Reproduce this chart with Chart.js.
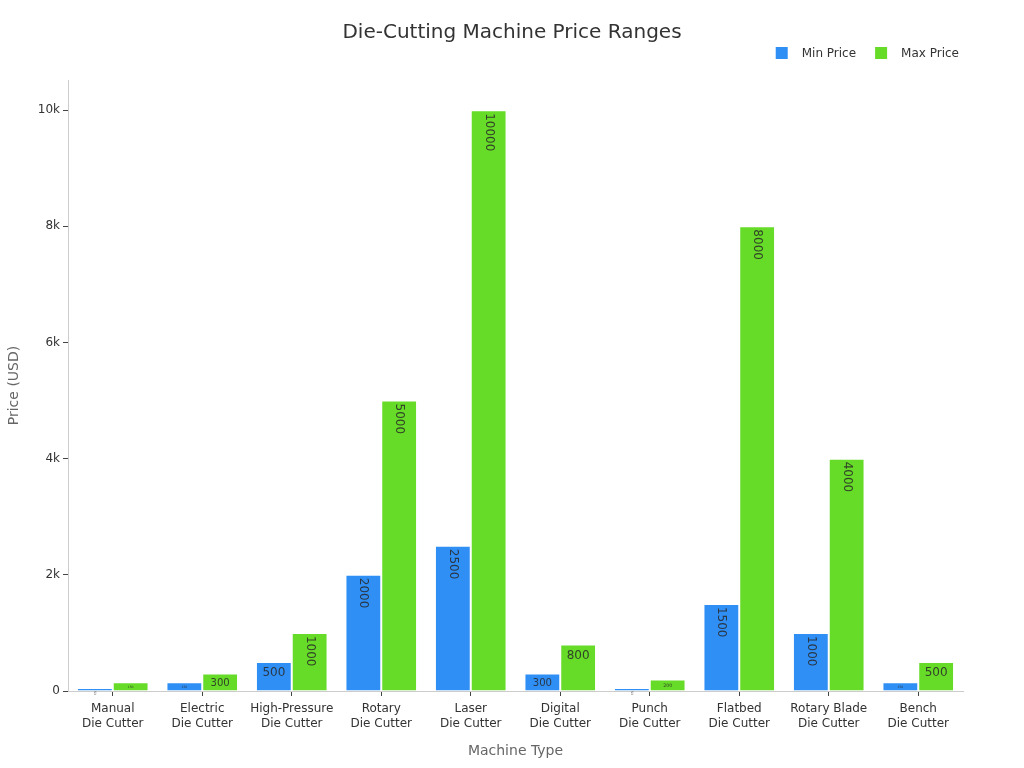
<!DOCTYPE html>
<html>
<head>
<meta charset="utf-8">
<script src="https://cdn.jsdelivr.net/npm/chart.js@4.4.1/dist/chart.umd.min.js"></script>
<style>
  html, body { margin: 0; padding: 0; background: #fff; }
  #wrap { width: 1024px; height: 768px; }
</style>
</head>
<body>
<div id="wrap"><canvas id="chart" width="1024" height="768"></canvas></div>
<script>
// ---- data ----
const machineTypes = [
  ['Manual', 'Die Cutter'],
  ['Electric', 'Die Cutter'],
  ['High-Pressure', 'Die Cutter'],
  ['Rotary', 'Die Cutter'],
  ['Laser', 'Die Cutter'],
  ['Digital', 'Die Cutter'],
  ['Punch', 'Die Cutter'],
  ['Flatbed', 'Die Cutter'],
  ['Rotary Blade', 'Die Cutter'],
  ['Bench', 'Die Cutter']
];
const minPrice = [50, 150, 500, 2000, 2500, 300, 50, 1500, 1000, 150];
const maxPrice = [150, 300, 1000, 5000, 10000, 800, 200, 8000, 4000, 500];
const yTicks = [0, 2000, 4000, 6000, 8000, 10000];
const yTickLabels = ['0', '2k', '4k', '6k', '8k', '10k'];
const seriesNames = ['Min Price', 'Max Price'];
const seriesColors = ['#2f8ff5', '#66db28'];

const FONT = "'DejaVu Sans', Verdana, sans-serif";
const chartTitle = 'Die-Cutting Machine Price Ranges';

// title + legend drawn in the top margin
const header = {
  id: 'header',
  afterDraw(chart) {
    const ctx = chart.ctx;
    ctx.save();
    ctx.fillStyle = '#333';
    ctx.textBaseline = 'middle';
    ctx.textAlign = 'center';
    ctx.font = '20px ' + FONT;
    ctx.fillText(chartTitle, chart.width / 2, 33);

    // legend, right aligned
    ctx.font = '12px ' + FONT;
    ctx.textAlign = 'left';
    const items = chart.data.datasets.map(ds => ({ text: ds.label, color: ds.backgroundColor }));
    const widths = items.map(it => 12 + 14 + ctx.measureText(it.text).width);
    const gap = 19;
    let total = widths.reduce((a, b) => a + b, 0) + gap * (items.length - 1);
    let x = 959 - total;
    const y = 53;
    items.forEach((it, i) => {
      ctx.fillStyle = it.color;
      ctx.fillRect(x, y - 6, 12, 12);
      ctx.fillStyle = '#333';
      ctx.fillText(it.text, x + 26, y + 1);
      x += widths[i] + gap;
    });
    ctx.restore();
  }
};

// labels inside bars, rotated or shrunk when they don't fit
const barLabels = {
  id: 'barLabels',
  afterDatasetsDraw(chart) {
    const ctx = chart.ctx;
    const pad = 3;
    chart.data.datasets.forEach((ds, di) => {
      const meta = chart.getDatasetMeta(di);
      meta.data.forEach((bar, i) => {
        const txt = String(ds.data[i]);
        const w = bar.width;
        const h = Math.abs(bar.base - bar.y);
        ctx.save();
        ctx.font = '12px ' + FONT;
        const tw = ctx.measureText(txt).width;
        const th = 13;
        const sH = Math.min(1, (w - 2 * pad) / tw, (h - 2 * pad) / th);
        const sR = Math.min(1, (h - 2 * pad) / tw, (w - 2 * pad) / th);
        ctx.fillStyle = 'rgba(40,40,40,0.85)';
        ctx.textAlign = 'center';
        ctx.textBaseline = 'middle';
        if (sH >= sR) {
          const s = Math.max(sH, 0.25);
          ctx.font = (12 * s).toFixed(1) + 'px ' + FONT;
          ctx.fillText(txt, bar.x, bar.y + pad + th * s / 2 + 1.5 * s);
        } else {
          const s = Math.max(sR, 0.25);
          ctx.font = (12 * s).toFixed(1) + 'px ' + FONT;
          ctx.translate(bar.x, bar.y + pad + tw * s / 2);
          ctx.rotate(Math.PI / 2);
          ctx.fillText(txt, 0, 0);
        }
        ctx.restore();
      });
    });
  }
};

new Chart(document.getElementById('chart'), {
  type: 'bar',
  data: {
    labels: machineTypes,
    datasets: [
      {
        label: seriesNames[0],
        data: minPrice,
        backgroundColor: seriesColors[0],
        borderColor: '#ffffff',
        borderWidth: 1,
        borderSkipped: 'bottom'
      },
      {
        label: seriesNames[1],
        data: maxPrice,
        backgroundColor: seriesColors[1],
        borderColor: '#ffffff',
        borderWidth: 1,
        borderSkipped: 'bottom'
      }
    ]
  },
  options: {
    responsive: false,
    animation: false,
    layout: { padding: { left: 0, right: 61, top: 80, bottom: 0 } },
    datasets: { bar: { categoryPercentage: 0.8, barPercentage: 1.0 } },
    plugins: {
      title: { display: false },
      legend: { display: false },
      tooltip: { enabled: false }
    },
    scales: {
      x: {
        title: {
          display: true,
          text: 'Machine Type',
          color: '#666',
          font: { family: FONT, size: 14 },
          padding: { top: 8, bottom: 8 }
        },
        ticks: {
          color: '#333',
          font: { family: FONT, size: 12 },
          maxRotation: 0,
          autoSkip: false,
          padding: 6
        },
        grid: {
          display: true,
          drawOnChartArea: false,
          tickLength: 5,
          color: '#444',
          offset: false
        },
        border: { color: '#ccc' },
        afterFit(scale) { scale.height = 77; }
      },
      y: {
        min: 0,
        max: 10520,
        title: {
          display: true,
          text: 'Price (USD)',
          color: '#666',
          font: { family: FONT, size: 14 },
          padding: { top: 6, bottom: 4 }
        },
        afterBuildTicks(scale) {
          scale.ticks = yTicks.map(v => ({ value: v }));
        },
        ticks: {
          color: '#333',
          font: { family: FONT, size: 12 },
          callback(v) {
            const k = yTicks.indexOf(v);
            return k >= 0 ? yTickLabels[k] : '';
          }
        },
        grid: {
          display: true,
          drawOnChartArea: false,
          tickLength: 5,
          color: '#444'
        },
        border: { color: '#ccc' },
        afterFit(scale) { scale.width = 68; }
      }
    }
  },
  plugins: [barLabels, header]
});
</script>
</body>
</html>
